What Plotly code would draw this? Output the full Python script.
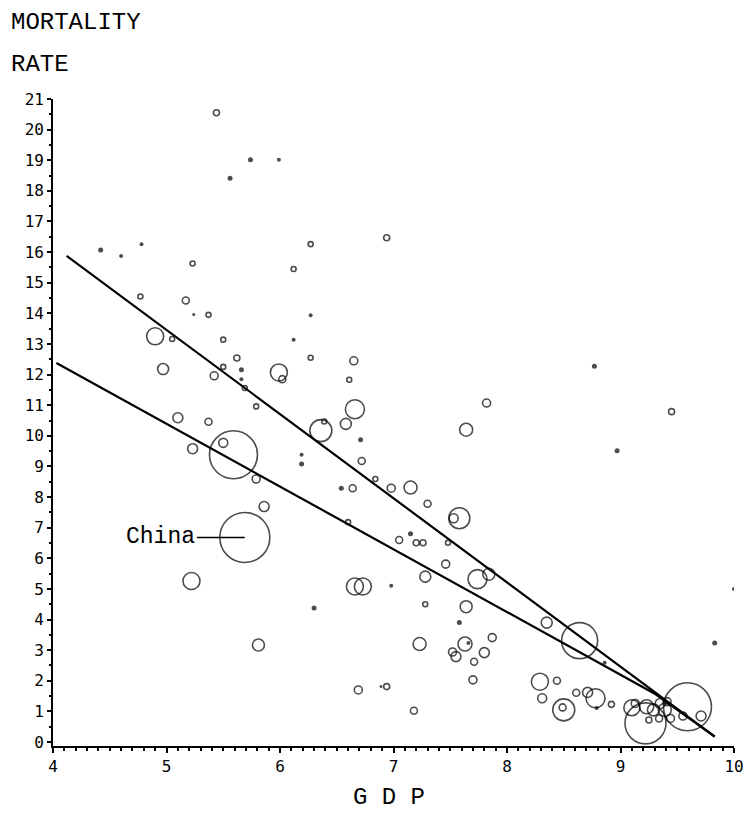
import plotly.graph_objects as go

# Open circles: GDP, mortality rate, bubble diameter (px)
open_pts = [
    (5.44, 20.55, 6), (5.23, 15.63, 5), (6.27, 16.26, 5), (6.94, 16.47, 6),
    (6.12, 15.45, 5), (4.77, 14.55, 5), (5.17, 14.42, 7), (5.37, 13.95, 5),
    (4.90, 13.25, 17), (5.05, 13.16, 5), (5.50, 13.14, 5), (4.97, 12.18, 11),
    (5.42, 11.96, 8), (5.50, 12.25, 5), (5.62, 12.54, 6), (5.69, 11.56, 5),
    (5.99, 12.07, 17), (6.02, 11.85, 7), (6.27, 12.55, 5), (6.65, 12.45, 8),
    (6.61, 11.83, 5), (5.79, 10.96, 5), (5.10, 10.59, 10), (5.37, 10.46, 7),
    (5.50, 9.77, 9), (5.23, 9.58, 10), (5.59, 9.38, 48), (5.79, 8.59, 8),
    (5.86, 7.69, 10), (5.69, 6.68, 50), (5.22, 5.26, 17), (5.81, 3.17, 12),
    (6.36, 10.17, 22), (6.39, 10.47, 5), (6.58, 10.39, 11), (6.66, 10.87, 19),
    (6.72, 9.18, 7), (6.84, 8.59, 5), (6.64, 8.29, 7), (6.98, 8.29, 8),
    (7.15, 8.31, 13), (7.30, 7.78, 7), (6.60, 7.18, 5), (7.05, 6.60, 7),
    (7.20, 6.51, 6), (7.26, 6.51, 6), (7.48, 6.51, 5), (7.53, 7.31, 9),
    (7.58, 7.31, 21), (7.64, 10.20, 13), (7.82, 11.07, 8), (9.45, 10.79, 6),
    (7.46, 5.81, 8), (7.28, 5.40, 11), (7.74, 5.32, 19), (7.84, 5.48, 12),
    (6.66, 5.08, 17), (6.73, 5.08, 17), (7.28, 4.50, 5), (7.64, 4.42, 12),
    (7.23, 3.20, 13), (7.63, 3.20, 14), (7.87, 3.41, 8), (7.80, 2.92, 10),
    (7.55, 2.79, 10), (7.52, 2.94, 8), (7.71, 2.62, 7), (7.70, 2.03, 8),
    (6.69, 1.70, 8), (6.94, 1.81, 6), (7.18, 1.02, 7), (8.35, 3.90, 11),
    (8.64, 3.31, 36), (8.29, 1.97, 17), (8.44, 2.00, 7), (8.31, 1.43, 9),
    (8.50, 1.05, 22), (8.49, 1.13, 7), (8.61, 1.61, 7), (8.71, 1.62, 10),
    (8.78, 1.43, 19), (8.92, 1.23, 6), (9.10, 1.12, 16), (9.13, 1.26, 8),
    (9.23, 1.15, 14), (9.29, 1.05, 12), (9.35, 1.26, 10), (9.39, 1.05, 13),
    (9.41, 1.32, 8), (9.34, 0.77, 7), (9.25, 0.72, 6), (9.44, 0.77, 8),
    (9.55, 0.85, 8), (9.22, 0.61, 41), (9.59, 1.15, 48), (9.71, 0.85, 10),
]
gdp_open = [p[0] for p in open_pts]
mort_open = [p[1] for p in open_pts]
size_open = [p[2] for p in open_pts]

# Small filled dots
dot_pts = [
    (5.74, 19.02, 5), (5.99, 19.02, 4), (5.56, 18.41, 5), (4.42, 16.07, 5),
    (4.60, 15.87, 4), (4.78, 16.26, 4), (6.27, 13.94, 4), (5.24, 13.96, 3),
    (6.12, 13.14, 4), (5.66, 12.16, 5), (5.66, 11.85, 4), (6.19, 9.38, 4),
    (6.19, 9.08, 5), (6.71, 9.87, 5), (6.54, 8.29, 5), (7.15, 6.80, 5),
    (6.30, 4.38, 5), (6.98, 5.10, 4), (7.58, 3.90, 5), (7.66, 3.23, 4),
    (8.86, 2.59, 4), (8.77, 12.27, 5), (8.97, 9.51, 5), (9.83, 3.23, 5),
    (10.0, 5.0, 4), (8.79, 1.11, 4), (6.89, 1.81, 3),
]
gdp_dot = [p[0] for p in dot_pts]
mort_dot = [p[1] for p in dot_pts]
size_dot = [p[2] for p in dot_pts]

# Fitted lines
upper_x = [4.12, 9.83]
upper_y = [15.88, 0.18]
lower_x = [4.03, 9.31, 9.83]
lower_y = [12.38, 1.56, 0.18]

china = (5.69, 6.68)

x_ticks = [4, 5, 6, 7, 8, 9, 10]
y_ticks = list(range(0, 22))

fig = go.Figure()
fig.add_trace(go.Scatter(x=upper_x, y=upper_y, mode="lines",
                         line=dict(color="black", width=2.2), hoverinfo="skip"))
fig.add_trace(go.Scatter(x=lower_x, y=lower_y, mode="lines",
                         line=dict(color="black", width=2.2), hoverinfo="skip"))
fig.add_trace(go.Scatter(x=gdp_open, y=mort_open, mode="markers",
                         marker=dict(symbol="circle-open", size=size_open,
                                     color="black", line=dict(width=1.6))))
fig.add_trace(go.Scatter(x=gdp_dot, y=mort_dot, mode="markers",
                         marker=dict(symbol="circle", size=size_dot,
                                     color="black", line=dict(width=0))))

tickfont = dict(family="DejaVu Sans Mono", size=16, color="black")
fig.update_xaxes(range=[4, 10], tickvals=x_ticks, showline=True, linecolor="black",
                 linewidth=1.8, ticks="outside", ticklen=5, tickwidth=1.5,
                 tickcolor="black", showgrid=False, zeroline=False, tickfont=tickfont,
                 minor=dict(dtick=0.1, ticks="outside", ticklen=3, tickcolor="black",
                            showgrid=False))
fig.update_yaxes(range=[-0.13, 21], tickvals=y_ticks, showline=True, linecolor="black",
                 linewidth=1.8, ticks="outside", ticklen=4, tickwidth=1.5,
                 tickcolor="black", showgrid=False, zeroline=False, tickfont=tickfont,
                 minor=dict(dtick=0.5, ticks="outside", ticklen=2, tickcolor="black",
                            showgrid=False))

titlefont = dict(family="Liberation Mono", size=24, color="black")
fig.update_layout(
    width=756, height=831,
    margin=dict(l=53, r=13, t=99, b=85),
    plot_bgcolor="white", paper_bgcolor="white",
    showlegend=False,
    annotations=[
        dict(x=-0.0652, y=1.118, xref="paper", yref="paper", text="MORTALITY",
             showarrow=False, xanchor="left", yanchor="middle", font=titlefont),
        dict(x=-0.0652, y=1.053, xref="paper", yref="paper", text="RATE",
             showarrow=False, xanchor="left", yanchor="middle", font=titlefont),
        dict(x=0.4928, y=-0.079, xref="paper", yref="paper", text="G D P",
             showarrow=False, xanchor="center", yanchor="middle",
             font=dict(family="Liberation Mono", size=24, color="black")),
        dict(x=china[0], y=china[1], xref="x", yref="y", text="China",
             showarrow=True, arrowhead=0, arrowwidth=1.5, arrowcolor="black",
             ax=-84, ay=0, standoff=0,
             font=dict(family="Liberation Mono", size=23, color="black")),
    ],
)

fig.write_html("out.html")
